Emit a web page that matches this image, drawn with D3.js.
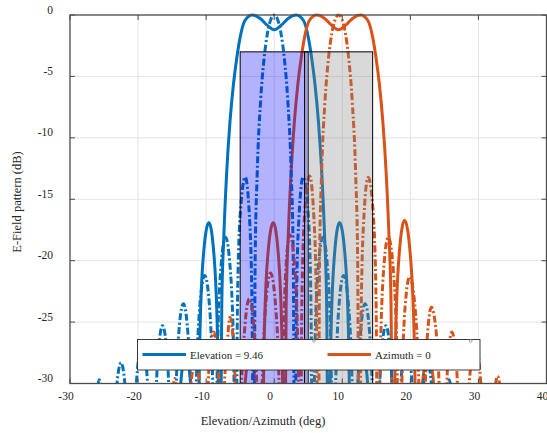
<!DOCTYPE html>
<html>
<head>
<meta charset="utf-8">
<script src="https://cdn.jsdelivr.net/npm/d3@7"></script>
<style>
  body { margin: 0; background: #fff; }
  svg { display: block; }
  text { font-family: "Liberation Serif", "Times New Roman", serif; fill: #262626; }
</style>
</head>
<body>
<div id="chart"></div>
<script>
// ---- data: [angle (deg), level (dB)] ----
// elevation cut, wide flat-top beam (solid blue)
const elevWide = [
  [-30,-40],[-14.6,-40],[-13.8,-30.5],[-13.0,-27.5],[-12.2,-30.5],[-11.3,-40],
  [-10.95,-27],[-10.45,-19.9],[-9.6,-16.9],[-8.8,-19.9],[-8.3,-27],[-7.95,-40],
  [-7.7,-23.5],[-7.4,-18],[-7.0,-13],[-6.5,-8.7],[-6.0,-5.7],[-5.5,-3.5],[-5.0,-1.8],
  [-4.3,-0.45],[-3.25,0],[-2.0,-0.3],[-1.0,-0.85],[0,-1.2],
  [1.0,-0.85],[2.0,-0.3],[3.25,0],[4.3,-0.45],[5.0,-1.8],[5.5,-3.5],[6.0,-5.7],
  [6.5,-8.7],[7.0,-13],[7.4,-18],[7.7,-23.5],[7.95,-40],
  [8.3,-27],[8.8,-19.9],[9.6,-16.9],[10.45,-19.9],[10.95,-27],[11.3,-40],
  [12.2,-30.5],[13.0,-27.5],[13.8,-30.5],[14.6,-40],[40,-40]
];
// azimuth cut, wide flat-top beam (solid orange)
const aziWide = [
  [-30,-40],[-5.14,-40],[-4.34,-30.5],[-3.54,-27.5],[-2.74,-30.5],[-1.84,-40],
  [-1.49,-27],[-0.99,-19.9],[-0.14,-16.9],[0.66,-19.9],[1.16,-27],[1.51,-40],
  [1.76,-23.5],[2.06,-18],[2.46,-13],[2.96,-8.7],[3.46,-5.7],[3.96,-3.5],[4.46,-1.8],
  [5.16,-0.45],[6.21,0],[7.46,-0.3],[8.46,-0.85],[9.46,-1.2],
  [10.46,-0.85],[11.46,-0.3],[12.71,0],[13.76,-0.45],[14.46,-1.8],[14.96,-3.5],[15.46,-5.7],
  [15.96,-8.7],[16.46,-13],[16.86,-18],[17.16,-23.5],[17.41,-40],
  [17.8,-27],[18.3,-19.9],[19.15,-16.7],[20.05,-19.9],[20.6,-27],[21.0,-40],
  [21.7,-30.5],[22.6,-27.5],[23.5,-30.5],[24.4,-40],[40,-40]
];
// elevation cut, narrow beam (dash-dot blue)
const elevNarrow = [
  [-30,-40],[-27.25,-40],[-26.1,-31],[-25.7,-29.7],[-25.3,-31],[-24.1,-40],
  [-23.3,-31.3],[-22.5,-28.3],[-21.74,-31.3],[-20.95,-40],
  [-20.2,-29.6],[-19.4,-26.6],[-18.65,-29.6],[-17.9,-40],
  [-17.6,-35.3],[-17.15,-28.3],[-16.4,-25.3],[-15.65,-28.3],[-15.2,-35.3],[-14.9,-40],
  [-14.6,-33.5],[-14.1,-26.5],[-13.35,-23.5],[-12.6,-26.5],[-12.1,-33.5],[-11.8,-40],
  [-11.5,-31.2],[-11.0,-24.2],[-10.2,-21.2],[-9.44,-24.2],[-8.97,-31.2],[-8.65,-40],
  [-8.35,-28.1],[-7.9,-21.1],[-7.15,-18.1],[-6.4,-21.1],[-5.95,-28.1],[-5.65,-40],
  [-5.39,-23.2],[-4.99,-16.2],[-4.25,-13.2],[-3.66,-16.2],[-3.27,-23.2],[-3.0,-40],
  [-2.8,-20],[-2.5,-12.9],[-2.0,-7.0],[-1.5,-3.6],[-1.0,-1.5],[-0.5,-0.37],[0,0],
  [0.5,-0.37],[1.0,-1.5],[1.5,-3.6],[2.0,-7.0],[2.5,-12.9],[2.8,-20],[3.0,-40],
  [3.27,-23.2],[3.66,-16.2],[4.25,-13.2],[4.99,-16.2],[5.39,-23.2],[5.65,-40],
  [5.95,-28.1],[6.4,-21.1],[7.15,-18.1],[7.9,-21.1],[8.35,-28.1],[8.65,-40],
  [8.97,-31.2],[9.44,-24.2],[10.2,-21.2],[11.0,-24.2],[11.5,-31.2],[11.8,-40],
  [12.1,-33.5],[12.6,-26.5],[13.35,-23.5],[14.1,-26.5],[14.6,-33.5],[14.9,-40],
  [15.2,-35.3],[15.65,-28.3],[16.4,-25.3],[17.15,-28.3],[17.6,-35.3],[17.9,-40],
  [18.65,-29.6],[19.4,-26.6],[20.2,-29.6],[20.95,-40],
  [21.74,-31.3],[22.5,-28.3],[23.3,-31.3],[24.1,-40],
  [25.3,-31],[25.7,-29.7],[26.1,-31],[27.25,-40],[40,-40]
];
// azimuth cut, narrow beam (dash-dot orange)
const aziNarrow = [
  [-30,-40],[-16.6,-40],[-15.0,-31],[-14.6,-29.6],[-14.2,-31],[-13.3,-40],
  [-12.4,-31],[-11.6,-28.3],[-10.8,-31],[-10.1,-40],
  [-9.6,-28.8],[-8.9,-25.8],[-8.2,-28.8],[-7.7,-40],
  [-7.3,-30],[-7.0,-27.6],[-6.5,-24.6],[-5.9,-27.6],[-5.55,-34],[-5.3,-40],
  [-5.0,-33],[-4.4,-26],[-3.65,-23.1],[-2.9,-26],[-2.4,-33],[-2.1,-40],
  [-1.8,-31],[-1.3,-24],[-0.55,-21],[0.25,-24],[0.75,-31],[1.0,-40],
  [1.3,-28],[1.7,-20.8],[2.3,-17.9],[3.05,-20.8],[3.5,-28],[3.81,-40],
  [4.07,-23.2],[4.47,-16.2],[5.21,-13.1],[5.8,-16.2],[6.19,-23.2],[6.46,-40],
  [6.66,-20],[6.96,-12.9],[7.46,-7.0],[7.96,-3.6],[8.46,-1.5],[8.96,-0.37],[9.46,0],
  [9.96,-0.37],[10.46,-1.5],[10.96,-3.6],[11.46,-7.0],[11.96,-12.9],[12.26,-20],[12.46,-40],
  [12.8,-23.2],[13.2,-16.2],[13.8,-13.2],[14.55,-16.2],[14.96,-23.2],[15.22,-40],
  [15.57,-28.1],[16.03,-21.1],[16.75,-18.1],[17.55,-21.1],[18.03,-28.1],[18.34,-40],
  [18.69,-31.2],[19.17,-24.2],[19.9,-21.3],[20.75,-24.2],[21.3,-31.2],[21.6,-40],
  [22.0,-33.5],[22.45,-26.5],[23.1,-23.8],[23.9,-26.5],[24.45,-33.5],[24.8,-40],
  [25.1,-35.3],[25.45,-28.8],[26.1,-25.8],[26.8,-28.8],[27.3,-35.3],[27.7,-40],
  [28.7,-29.6],[29.5,-26.6],[30.3,-29.6],[31.1,-40],
  [32.3,-31],[32.8,-29.4],[33.3,-31],[34,-40],[40,-40]
];

// shaded sectors: [start, end] in deg, top level in dB
const sectorStart = [-5, 4.46];
const sectorEnd = [5, 14.46];
const sectorTop = -3;
const sectorFill = ["#0000ff", "#808080"];

const xTicks = [-30, -20, -10, 0, 10, 20, 30, 40];
const yTicks = [-30, -25, -20, -15, -10, -5, 0];
const legendLabels = ["Elevation = 9.46", "Azimuth = 0"];

const blue = "#0072BD", orange = "#D95319";

// ---- drawing ----
const width = 547, height = 433;
const svg = d3.select("#chart").append("svg")
  .attr("width", width).attr("height", height);

const x = d3.scaleLinear().domain([-30, 40]).range([70, 546.5]);
const y = d3.scaleLinear().domain([-30, 0]).range([383.5, 15]);

// grid
svg.append("g").selectAll("line").data(xTicks.slice(1, -1)).join("line")
  .attr("x1", d => x(d)).attr("x2", d => x(d))
  .attr("y1", y(-30)).attr("y2", y(0))
  .attr("stroke", "#e3e3e3").attr("stroke-width", 1);
svg.append("g").selectAll("line").data(yTicks.slice(1, -1)).join("line")
  .attr("x1", x(-30)).attr("x2", x(40))
  .attr("y1", d => y(d)).attr("y2", d => y(d))
  .attr("stroke", "#e3e3e3").attr("stroke-width", 1);

svg.append("clipPath").attr("id", "plotClip")
  .append("rect").attr("x", x(-30)).attr("y", y(0) - 2)
  .attr("width", x(40) - x(-30)).attr("height", y(-30) - y(0) + 2);

const plot = svg.append("g").attr("clip-path", "url(#plotClip)");

const line = d3.line()
  .x(d => x(d[0]))
  .y(d => y(d[1]))
  .curve(d3.curveMonotoneX);

// solid curves
[[elevWide, blue], [aziWide, orange]].forEach(([data, col]) => {
  plot.append("path").datum(data)
    .attr("d", line)
    .attr("fill", "none").attr("stroke", col).attr("stroke-width", 3)
    .attr("stroke-linejoin", "round");
});

// dash-dot curves
[[elevNarrow, blue], [aziNarrow, orange]].forEach(([data, col]) => {
  plot.append("path").datum(data)
    .attr("d", line)
    .attr("fill", "none").attr("stroke", col).attr("stroke-width", 3)
    .attr("stroke-dasharray", "7,2.5,2,2.5");
});

// shaded sectors drawn over the curves
svg.append("g").selectAll("rect").data(sectorStart).join("rect")
  .attr("x", (d, i) => x(d))
  .attr("y", y(sectorTop))
  .attr("width", (d, i) => x(sectorEnd[i]) - x(d))
  .attr("height", y(-30) - y(sectorTop))
  .attr("fill", (d, i) => sectorFill[i]).attr("fill-opacity", 0.3)
  .attr("stroke", "#000").attr("stroke-width", 1);

// axes box + inward ticks
const frame = svg.append("g").attr("stroke", "#4a4a4a").attr("fill", "none");
frame.append("rect")
  .attr("x", x(-30)).attr("y", y(0))
  .attr("width", x(40) - x(-30)).attr("height", y(-30) - y(0))
  .attr("stroke-width", 1.3);
xTicks.forEach(v => {
  frame.append("line").attr("x1", x(v)).attr("x2", x(v)).attr("y1", y(-30)).attr("y2", y(-30) - 5);
  frame.append("line").attr("x1", x(v)).attr("x2", x(v)).attr("y1", y(0)).attr("y2", y(0) + 5);
});
yTicks.forEach(v => {
  frame.append("line").attr("x1", x(-30)).attr("x2", x(-30) + 5).attr("y1", y(v)).attr("y2", y(v));
  frame.append("line").attr("x1", x(40)).attr("x2", x(40) - 5).attr("y1", y(v)).attr("y2", y(v));
});

// tick labels
svg.append("g").selectAll("text").data(xTicks).join("text")
  .attr("x", d => x(d) - 4).attr("y", 399.5)
  .attr("text-anchor", "middle").attr("font-size", 11.5)
  .text(d => d);
svg.append("g").selectAll("text").data(yTicks).join("text")
  .attr("x", 53).attr("y", d => y(d) - 1.5)
  .attr("text-anchor", "end").attr("font-size", 11.5)
  .text(d => d);

// axis titles
svg.append("text")
  .attr("x", 263).attr("y", 424.5)
  .attr("text-anchor", "middle").attr("font-size", 12.5)
  .text("Elevation/Azimuth (deg)");
svg.append("text")
  .attr("transform", "translate(21,202) rotate(-90)")
  .attr("text-anchor", "middle").attr("font-size", 12.5)
  .text("E-Field pattern (dB)");

// legend
const legend = svg.append("g");
legend.append("rect")
  .attr("x", 137.5).attr("y", 339.5).attr("width", 342.5).attr("height", 30.5)
  .attr("fill", "#fff").attr("stroke", "#262626").attr("stroke-width", 0.9);
const legendX = [142.5, 327.5];
legendLabels.forEach((lab, i) => {
  legend.append("line")
    .attr("x1", legendX[i]).attr("x2", legendX[i] + 43.5)
    .attr("y1", 354.5).attr("y2", 354.5)
    .attr("stroke", i === 0 ? blue : orange).attr("stroke-width", 3);
  legend.append("text")
    .attr("x", legendX[i] + 47.5).attr("y", 358.5)
    .attr("font-size", 11)
    .text(lab);
});
legend.selectAll("circle").data([314, 470.7]).join("circle")
  .attr("cx", d => d).attr("cy", 341)
  .attr("r", 1.3).attr("fill", "#fff").attr("stroke", "#888").attr("stroke-width", 0.7);
</script>
</body>
</html>
